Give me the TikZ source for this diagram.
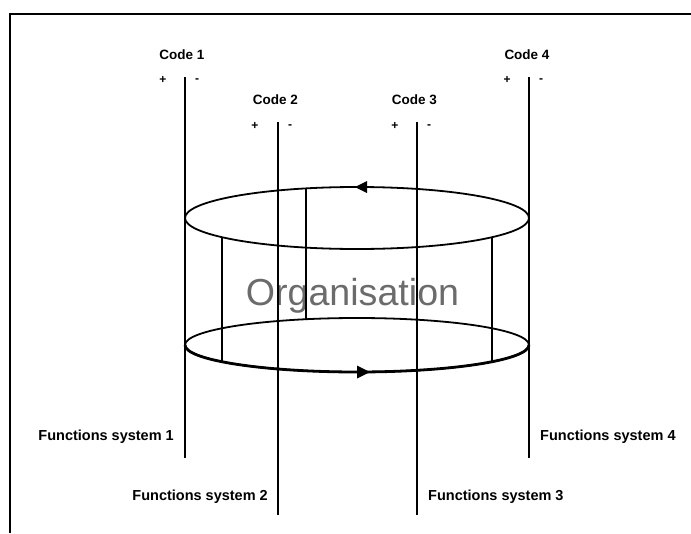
\documentclass[tikz,border=0pt]{standalone}
\usepackage{fontspec}
\setmainfont{Liberation Sans}
\begin{document}
\begin{tikzpicture}[x=1pt,y=-1pt,
  frameline/.style={line width=2.5pt},
  axisline/.style={line width=2pt},
  ring/.style={line width=1.8pt},
  frontring/.style={line width=2.8pt},
  innerline/.style={line width=1.5pt},
  codelbl/.style={font=\fontsize{13.5}{14}\selectfont\bfseries, inner sep=0pt, anchor=base},
  signlbl/.style={font=\fontsize{12}{12}\selectfont\bfseries, inner sep=0pt},
  fslbl/.style={font=\fontsize{14.5}{15}\selectfont\bfseries, inner sep=0pt, anchor=base},
  orglbl/.style={font=\fontsize{37.6}{38}\selectfont, text=black!58, inner sep=0pt, anchor=base},
  tiptri/.style={fill=black, draw=none}
]
\useasboundingbox (0,0) rectangle (691,533);

% frame (top and left edges)
\coordinate (frtr) at (691,14);
\coordinate (frtl) at (10,14);
\coordinate (frbl) at (10,533);
\draw[frameline] (frtr) -- (frtl) -- (frbl);

% Organisation text (behind lines)
\node[orglbl] (org) at (352.5,305) {Organisation};

% rings
\draw[ring] (357,218) ellipse [x radius=172pt, y radius=31pt];
\draw[ring] (357,345) ellipse [x radius=172pt, y radius=27pt];
\draw[frontring] (185,345) arc [start angle=180, end angle=360, x radius=172pt, y radius=27pt];

% arrowheads on rings
\coordinate (ta) at (355,187);
\coordinate (tb) at (367,181);
\coordinate (tc) at (367,193);
\fill[tiptri] (ta) -- (tb) -- (tc) -- cycle;
\coordinate (ba) at (370,372);
\coordinate (bb) at (357,365.5);
\coordinate (bc) at (357,378.5);
\fill[tiptri] (ba) -- (bb) -- (bc) -- cycle;

% inner lines between rings
\coordinate (i1t) at (222,237.2); \coordinate (i1b) at (222,361.7);
\coordinate (i2t) at (306,188.4); \coordinate (i2b) at (306,319.2);
\coordinate (i3t) at (492,237.2); \coordinate (i3b) at (492,361.7);
\draw[innerline] (i1t) -- (i1b);
\draw[innerline] (i2t) -- (i2b);
\draw[innerline] (i3t) -- (i3b);

% code axes
\coordinate (a1t) at (185,77);  \coordinate (a1b) at (185,458);
\coordinate (a2t) at (278,122); \coordinate (a2b) at (278,515);
\coordinate (a3t) at (417,122); \coordinate (a3b) at (417,515);
\coordinate (a4t) at (529,77);  \coordinate (a4b) at (529,458);
\draw[axisline] (a1t) -- (a1b);
\draw[axisline] (a2t) -- (a2b);
\draw[axisline] (a3t) -- (a3b);
\draw[axisline] (a4t) -- (a4b);

% code labels
\node[codelbl] (code1) at (182,59) {Code 1};
\node[codelbl] (code2) at (275.5,104) {Code 2};
\node[codelbl] (code3) at (414.5,104) {Code 3};
\node[codelbl] (code4) at (527,59) {Code 4};

% signs
\node[signlbl] (p1) at (163,80) {+};
\node[signlbl] (m1) at (197,81) {-};
\node[signlbl] (p2) at (255,126) {+};
\node[signlbl] (m2) at (290,127) {-};
\node[signlbl] (p3) at (395,126) {+};
\node[signlbl] (m3) at (429,127) {-};
\node[signlbl] (p4) at (507,80) {+};
\node[signlbl] (m4) at (541,81) {-};

% function system labels
\node[fslbl, anchor=base east] (fs1) at (174,440) {Functions system 1};
\node[fslbl, anchor=base east] (fs2) at (268,500) {Functions system 2};
\node[fslbl, anchor=base west] (fs3) at (428,500) {Functions system 3};
\node[fslbl, anchor=base west] (fs4) at (540,440) {Functions system 4};
\end{tikzpicture}
\end{document}
